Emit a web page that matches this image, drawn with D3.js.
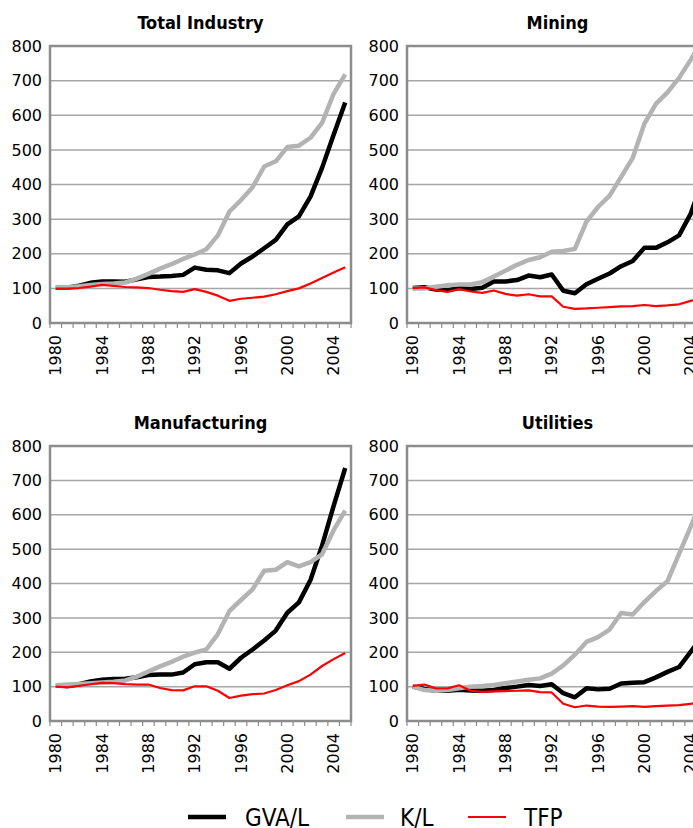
<!DOCTYPE html>
<html><head><meta charset="utf-8">
<script src="https://cdnjs.cloudflare.com/ajax/libs/d3/7.8.5/d3.min.js"></script>
<style>
html,body{margin:0;padding:0;background:#fff;}
svg{display:block;}
</style></head>
<body>
<svg id="chart" width="693" height="828"></svg>
<script>
const years = d3.range(1980, 2006);
const yTicks = [0,100,200,300,400,500,600,700,800];
const xLabelYears = [1980,1984,1988,1992,1996,2000,2004];
const seriesNames = ["GVA/L","K/L","TFP"];
const panelTitles = ["Total Industry","Mining","Manufacturing","Utilities"];

const totalGVA = [102,102,108,116,120,120,119,126,133,134,136,139,160,154,152,144,172,192,216,240,285,308,365,448,544,637];
const totalKL  = [103,103,106,110,113,114,117,128,142,157,170,185,198,213,253,322,355,392,452,467,508,512,535,578,662,718];
const totalTFP = [99,99,101,105,110,107,104,103,101,96,92,90,98,90,79,64,70,73,76,83,92,100,114,130,146,161];

const miningGVA = [101,103,97,95,101,98,102,120,120,124,137,132,140,93,86,112,128,143,164,179,217,217,233,253,315,410];
const miningKL  = [100,100,105,109,111,111,118,134,151,168,182,190,206,208,214,293,335,368,422,477,575,633,666,708,760,815];
const miningTFP = [101,103,95,90,98,91,87,94,84,79,83,77,77,47,41,42,44,46,48,49,52,49,51,54,64,72];

const manufGVA = [104,102,107,115,120,122,123,127,134,135,135,141,165,171,171,152,184,208,234,263,315,345,410,510,626,736];
const manufKL  = [104,106,108,110,112,114,118,129,144,159,172,187,199,208,253,320,352,383,437,440,462,450,462,485,555,612];
const manufTFP = [100,98,102,107,111,110,107,106,106,96,90,89,101,101,88,67,74,78,80,90,104,116,135,160,180,198];

const utilGVA = [100,93,88,88,91,89,88,90,96,100,105,102,107,81,69,95,92,94,109,111,113,127,143,157,201,245];
const utilKL  = [100,90,88,90,95,100,102,105,110,115,120,124,138,162,193,230,244,266,314,310,346,378,407,486,565,645];
const utilTFP = [102,106,95,95,104,88,85,86,87,88,89,84,83,50,40,45,42,41,42,43,41,43,45,46,50,55];

const panelData = [
  [totalGVA, totalKL, totalTFP],
  [miningGVA, miningKL, miningTFP],
  [manufGVA, manufKL, manufTFP],
  [utilGVA, utilKL, utilTFP]
];

const styles = [
  {color:"#000000", width:4.5},
  {color:"#b3b3b3", width:4.5},
  {color:"#ff0000", width:2.2}
];

const panels = [
  {x0:50,  x1:351, y0:46,  y1:323},
  {x0:407, x1:708, y0:46,  y1:323},
  {x0:50,  x1:351, y0:446, y1:721},
  {x0:407, x1:708, y0:446, y1:721}
];

const svg = d3.select("#chart");
const FONT = "DejaVu Sans, sans-serif";

panels.forEach((p, i) => {
  const x = d3.scaleBand().domain(years).range([p.x0, p.x1]).padding(0);
  const y = d3.scaleLinear().domain([0, 800]).range([p.y1, p.y0]);
  const g = svg.append("g");

  // gridlines
  g.selectAll("line.grid").data(yTicks.filter(v => v > 0 && v < 800)).join("line")
    .attr("x1", p.x0).attr("x2", p.x1)
    .attr("y1", d => y(d)).attr("y2", d => y(d))
    .attr("stroke", "#a6a6a6").attr("stroke-width", 1.5);

  // x boundary ticks
  const bounds = years.map(d => x(d)).concat([x(years[years.length-1]) + x.bandwidth()]);
  g.selectAll("line.xt").data(bounds).join("line")
    .attr("x1", d => d).attr("x2", d => d)
    .attr("y1", p.y1).attr("y2", p.y1 + 5)
    .attr("stroke", "#8c8c8c").attr("stroke-width", 1.2);

  // y axis labels
  const yAxis = d3.axisLeft(y).tickValues(yTicks).tickSize(0).tickPadding(8);
  const ya = g.append("g").attr("transform", `translate(${p.x0},0)`).call(yAxis);
  ya.select(".domain").remove();
  ya.selectAll("text").attr("font-family", FONT).attr("font-size", 16).attr("fill", "#000");

  // x axis labels
  const xAxis = d3.axisBottom(x).tickValues(xLabelYears).tickSize(0).tickFormat(d3.format("d"));
  const xa = g.append("g").attr("transform", `translate(0,${p.y1})`).call(xAxis);
  xa.select(".domain").remove();
  xa.selectAll("text")
    .attr("font-family", FONT).attr("font-size", 16).attr("fill", "#000")
    .attr("transform", "rotate(-90)")
    .attr("text-anchor", "end")
    .attr("x", -12).attr("y", 0).attr("dy", "0.35em");

  // frame
  g.append("rect").attr("x", p.x0).attr("y", p.y0)
    .attr("width", p.x1 - p.x0).attr("height", p.y1 - p.y0)
    .attr("fill", "none").attr("stroke", "#8c8c8c").attr("stroke-width", 2.5);

  // lines
  const line = d3.line().x((d, k) => x(years[k]) + x.bandwidth()/2).y(d => y(d));
  panelData[i].forEach((vals, s) => {
    g.append("path").datum(vals).attr("d", line)
      .attr("fill", "none").attr("stroke", styles[s].color)
      .attr("stroke-width", styles[s].width)
      .attr("stroke-linejoin", "round").attr("stroke-linecap", "butt");
  });

  // title
  g.append("text").attr("x", (p.x0 + p.x1)/2).attr("y", p.y0 - 17)
    .attr("text-anchor", "middle")
    .attr("font-family", "DejaVu Sans Condensed, DejaVu Sans, sans-serif")
    .attr("font-weight", "bold").attr("font-size", 18)
    .text(panelTitles[i]);
});

// legend
const legendItems = [
  {lx:188, tx:245},
  {lx:346, tx:400},
  {lx:468, tx:524}
];
const lg = svg.append("g");
seriesNames.forEach((name, s) => {
  const it = legendItems[s];
  lg.append("line").attr("x1", it.lx).attr("x2", it.lx + 38)
    .attr("y1", 817).attr("y2", 817)
    .attr("stroke", styles[s].color).attr("stroke-width", s === 2 ? 2.2 : 4.5);
  lg.append("text").attr("x", it.tx).attr("y", 826)
    .attr("font-family", "DejaVu Sans Condensed, DejaVu Sans, sans-serif")
    .attr("font-size", 24).attr("fill", "#000")
    .text(name);
});
</script>
</body></html>
